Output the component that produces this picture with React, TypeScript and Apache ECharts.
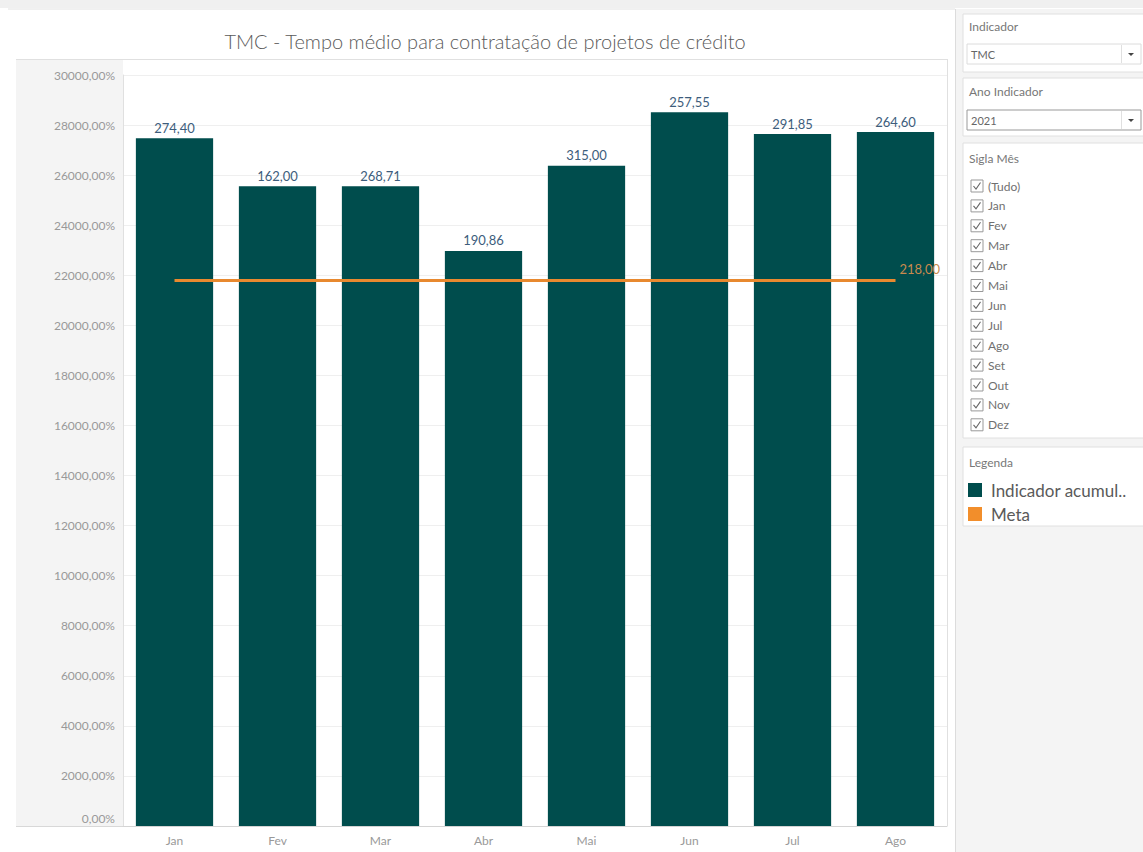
import React, { useEffect, useRef } from "react";
import * as echarts from "echarts";

const categories = ["Jan", "Fev", "Mar", "Abr", "Mai", "Jun", "Jul", "Ago"];
const barValues = [27470, 25560, 25560, 22970, 26370, 28510, 27640, 27720];
const barLabels = ["274,40", "162,00", "268,71", "190,86", "315,00", "257,55", "291,85", "264,60"];
const metaValues = [21790, 21790, 21790, 21790, 21790, 21790, 21790, 21790];
const metaLabel = "218,00";
const filterMonths = ["(Tudo)", "Jan", "Fev", "Mar", "Abr", "Mai", "Jun", "Jul", "Ago", "Set", "Out", "Nov", "Dez"];

const FONT = "Lato, 'Open Sans', sans-serif";

export default function App() {
  const ref = useRef<HTMLDivElement>(null);
  useEffect(() => {
    if (!ref.current) return;
    const chart = echarts.init(ref.current, null, { renderer: "svg" });

    const graphics: any[] = [];
    graphics.push({ type: "rect", shape: { x: 0, y: 0, width: 1143, height: 8 }, style: { fill: "#f0f0f0" }, z: -10 });
    graphics.push({ type: "line", shape: { x1: 8, y1: 9, x2: 955, y2: 9 }, style: { stroke: "#e2e2e2", lineWidth: 1 }, z: -9 });
    graphics.push({ type: "rect", shape: { x: 16, y: 59, width: 107, height: 767 }, style: { fill: "#f4f4f4" }, z: -10 });
    graphics.push({ type: "line", shape: { x1: 16, y1: 59.5, x2: 947, y2: 59.5 }, style: { stroke: "#e0e0e0", lineWidth: 1 }, z: -9 });
    graphics.push({ type: "line", shape: { x1: 16, y1: 826.5, x2: 123, y2: 826.5 }, style: { stroke: "#d8d8d8", lineWidth: 1 }, z: -9 });
    graphics.push({ type: "line", shape: { x1: 947.5, y1: 59, x2: 947.5, y2: 826 }, style: { stroke: "#e0e0e0", lineWidth: 1 }, z: -9 });
    graphics.push({ type: "rect", shape: { x: 955, y: 9, width: 188, height: 843 }, style: { fill: "#f4f4f4" }, z: -10 });
    graphics.push({ type: "line", shape: { x1: 955.5, y1: 9, x2: 955.5, y2: 852 }, style: { stroke: "#dcdcdc", lineWidth: 1 }, z: -9 });

    const card = (y: number, h: number) => ({
      type: "rect",
      shape: { x: 963, y, width: 185, height: h },
      style: { fill: "#ffffff", stroke: "#e0e0e0", lineWidth: 1 },
      z: -8,
    });
    const title = (t: string, y: number) => ({
      type: "text",
      style: { text: t, x: 969, y, fill: "#777", fontSize: 12, fontFamily: FONT, verticalAlign: "middle" },
    });
    const dropdown = (t: string, y: number, dark: boolean) => [
      { type: "rect", shape: { x: 967, y, width: 174, height: 20 }, style: { fill: "#fff", stroke: dark ? "#999" : "#dcdcdc", lineWidth: 1 }, z: -7 },
      { type: "line", shape: { x1: 1121.5, y1: y + 1, x2: 1121.5, y2: y + 19 }, style: { stroke: "#e0e0e0", lineWidth: 1 } },
      { type: "polygon", shape: { points: [[1128, y + 9], [1134, y + 9], [1131, y + 12]] }, style: { fill: "#444" } },
      { type: "text", style: { text: t, x: 971, y: y + 10, fill: "#666", fontSize: 11, fontFamily: FONT, verticalAlign: "middle" } },
    ];

    graphics.push(card(14, 58));
    graphics.push(title("Indicador", 26));
    graphics.push(...dropdown("TMC", 44, false));
    graphics.push(card(78, 58));
    graphics.push(title("Ano Indicador", 91));
    graphics.push(...dropdown("2021", 110, true));
    graphics.push(card(143, 295));
    graphics.push(title("Sigla Mês", 158));
    filterMonths.forEach((m, i) => {
      const y = 186 + i * 19.9;
      graphics.push({ type: "rect", shape: { x: 971, y: y - 6, width: 12, height: 12 }, style: { fill: "#fff", stroke: "#999", lineWidth: 1 } });
      graphics.push({ type: "polyline", shape: { points: [[973.5, y], [976, y + 3], [980.5, y - 3.5]] }, style: { stroke: "#666", lineWidth: 1.1, fill: null } });
      graphics.push({ type: "text", style: { text: m, x: 988, y, fill: "#707070", fontSize: 12, fontFamily: FONT, verticalAlign: "middle" } });
    });
    graphics.push(card(447, 79));
    graphics.push(title("Legenda", 462));

    chart.setOption({
      animation: false,
      backgroundColor: "#ffffff",
      title: {
        text: "TMC - Tempo médio para contratação de projetos de crédito",
        left: 480,
        top: 26,
        textAlign: "center",
        textStyle: { fontSize: 20, fontWeight: 300, color: "#5a5a5a", fontFamily: FONT },
      },
      legend: {
        orient: "vertical",
        left: 968,
        top: 481,
        itemWidth: 14,
        itemHeight: 14,
        itemGap: 6,
        padding: 0,
        icon: "rect",
        selectedMode: false,
        textStyle: { fontSize: 17, color: "#5a5a5a", fontFamily: FONT, lineHeight: 18, padding: [0, 0, 0, 4] },
        formatter: (n: string) => (n === "Indicador acumulado" ? "Indicador acumul.." : n),
        data: [
          { name: "Indicador acumulado", itemStyle: { color: "#004d4d" } },
          { name: "Meta", itemStyle: { color: "#f28e2b" } },
        ],
      },
      graphic: { elements: graphics },
      grid: { left: 123, right: 196, top: 75, bottom: 26, containLabel: false },
      xAxis: {
        type: "category",
        data: categories,
        axisTick: { show: false },
        axisLine: { show: true, lineStyle: { color: "#d4d4d4" } },
        axisLabel: { color: "#999", fontSize: 12, fontFamily: FONT, margin: 8 },
      },
      yAxis: {
        type: "value",
        min: 0,
        max: 30000,
        interval: 2000,
        axisLine: { show: true, lineStyle: { color: "#e0e0e0" } },
        axisTick: { show: false },
        splitLine: { show: true, lineStyle: { color: "#efefef" } },
        axisLabel: {
          color: "#999",
          fontSize: 12,
          fontFamily: FONT,
          margin: 8,
          formatter: (v: number) => (v === 0 ? `{z|${v},00%}` : `${v},00%`),
          rich: { z: { color: "#999", fontSize: 12, fontFamily: FONT, padding: [0, 0, 16, 0] } },
        },
      },
      series: [
        {
          name: "Indicador acumulado",
          type: "bar",
          data: barValues,
          barCategoryGap: "25%",
          itemStyle: { color: "#004d4d" },
          label: {
            show: true,
            position: "top",
            distance: 4,
            color: "#3d5d7c",
            fontSize: 13,
            fontFamily: FONT,
            formatter: (p: any) => barLabels[p.dataIndex],
          },
          z: 2,
        },
        {
          name: "Meta",
          type: "line",
          data: metaValues,
          symbol: "none",
          lineStyle: { color: "#e8892f", width: 3 },
          itemStyle: { color: "#f28e2b" },
          z: 3,
          endLabel: {
            show: true,
            formatter: () => metaLabel,
            color: "#c98a4e",
            fontSize: 13,
            fontFamily: FONT,
            offset: [-4, -12],
          },
        },
      ],
    });
    return () => chart.dispose();
  }, []);
  return <div ref={ref} style={{ position: "fixed", left: 0, top: 0, width: 1143, height: 852 }} />;
}
